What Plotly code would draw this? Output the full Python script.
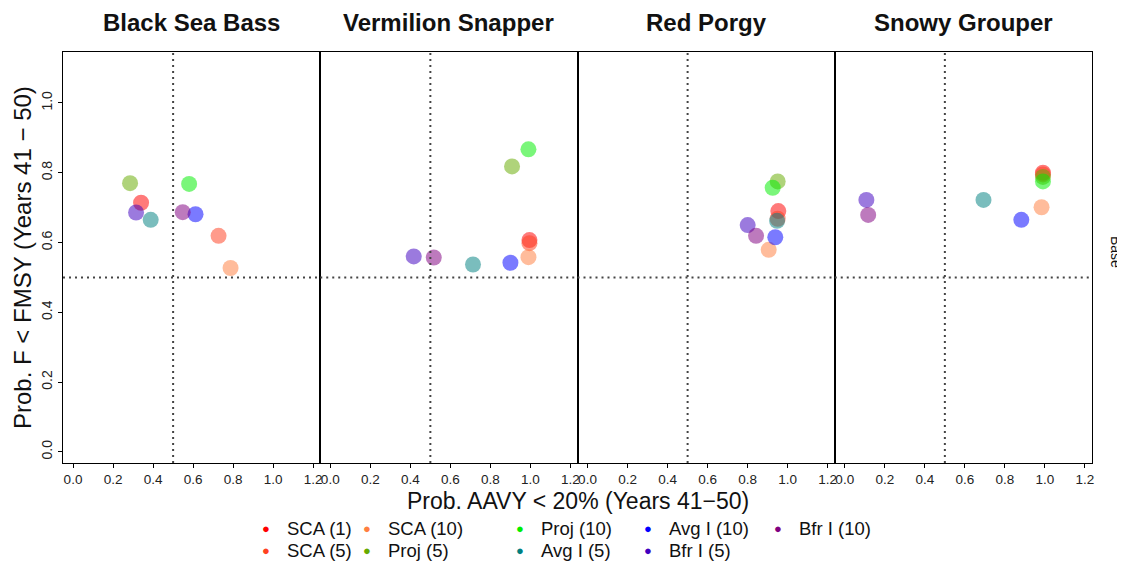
import plotly.graph_objects as go

stocks = ["Black Sea Bass", "Vermilion Snapper", "Red Porgy", "Snowy Grouper"]
series = ["SCA (1)", "SCA (5)", "SCA (10)", "Proj (5)", "Proj (10)",
          "Avg I (5)", "Avg I (10)", "Bfr I (5)", "Bfr I (10)"]
colors = ["#FF0000", "#FF4020", "#FF7F40", "#66AA00", "#00EE00",
          "#008080", "#0000FF", "#4000C0", "#800080"]

# x = Prob. AAVY < 20%, y = Prob. F < FMSY ; one list per stock, in series order
bsb_x = [0.340, 0.727, 0.787, 0.285, 0.580, 0.388, 0.612, 0.315, 0.548]
bsb_y = [0.714, 0.619, 0.527, 0.770, 0.768, 0.665, 0.681, 0.686, 0.687]
vs_x = [0.995, 0.995, 0.990, 0.908, 0.990, 0.713, 0.900, 0.417, 0.517]
vs_y = [0.607, 0.598, 0.558, 0.818, 0.867, 0.537, 0.542, 0.560, 0.557]
rp_x = [0.953, 0.950, 0.905, 0.950, 0.925, 0.947, 0.938, 0.800, 0.842]
rp_y = [0.690, 0.668, 0.579, 0.775, 0.757, 0.662, 0.615, 0.650, 0.619]
sg_x = [0.990, 0.990, 0.983, 0.990, 0.990, 0.693, 0.882, 0.108, 0.117]
sg_y = [0.800, 0.795, 0.701, 0.788, 0.775, 0.722, 0.665, 0.722, 0.679]

panel_x = [bsb_x, vs_x, rp_x, sg_x]
panel_y = [bsb_y, vs_y, rp_y, sg_y]

tick_vals = [0.0, 0.2, 0.4, 0.6, 0.8, 1.0, 1.2]
tick_text = ["0.0", "0.2", "0.4", "0.6", "0.8", "1.0", "1.2"]
ref_x = 0.5
ref_y = 0.5

FONT = "Liberation Sans, Arial, sans-serif"
OFF = 8  # page body margin
W, H = 1125 - OFF, 565 - OFF
# plot area in page pixels: x 63..1092, y 52..463
PX0, PX1, PY0, PY1 = 63, 1092, 52, 463
L, T = PX0 - OFF, PY0 - OFF
R, B = W - (PX1 - OFF), H - (PY1 - OFF)
pw = PX1 - PX0
ph = PY1 - PY0


def pxx(px):
    return (px - PX0) / pw


def pxy(py):
    return (PY1 - py) / ph


fig = go.Figure()

for p in range(4):
    sfx = "" if p == 0 else str(p + 1)
    for i, s in enumerate(series):
        fig.add_trace(go.Scatter(
            x=[panel_x[p][i]], y=[panel_y[p][i]], mode="markers",
            marker=dict(color=colors[i], size=16, opacity=0.52, line=dict(width=0)),
            name=s, showlegend=False, xaxis="x" + sfx, yaxis="y" + sfx,
            hoverinfo="skip"))
    d0 = p / 4
    d1 = (p + 1) / 4
    fig.layout["xaxis" + sfx] = dict(
        domain=[d0, d1], range=[-0.05, 1.235], tickvals=tick_vals, ticktext=tick_text,
        showgrid=False, zeroline=False, showline=True, mirror=True, linecolor="black",
        linewidth=1, ticks="outside", ticklen=4, tickcolor="black",
        tickfont=dict(family=FONT, size=13.5, color="#222"), anchor="y" + sfx)
    fig.layout["yaxis" + sfx] = dict(
        domain=[0, 1], range=[-0.032, 1.146], tickvals=tick_vals[:6], ticktext=tick_text[:6],
        showgrid=False, zeroline=False, showline=True, mirror=True, linecolor="black",
        linewidth=1, ticks="outside" if p == 0 else "", ticklen=4, tickcolor="black",
        showticklabels=(p == 0), tickangle=-90,
        tickfont=dict(family=FONT, size=14, color="#222"), anchor="x" + sfx)
    # reference lines
    fig.add_shape(type="line", xref="x" + sfx, yref="y" + sfx + " domain",
                  x0=ref_x, x1=ref_x, y0=0, y1=1,
                  line=dict(color="#444", width=2, dash="2px,4px"))
    fig.add_shape(type="line", xref="x" + sfx + " domain", yref="y" + sfx,
                  x0=0, x1=1, y0=ref_y, y1=ref_y,
                  line=dict(color="#444", width=2, dash="2px,4px"))
    fig.add_annotation(text="<b>" + stocks[p] + "</b>", xref="paper", yref="paper",
                       x=(d0 + d1) / 2, y=pxy(22), xanchor="center", yanchor="middle",
                       showarrow=False, font=dict(family=FONT, size=24, color="#111"))

# axis titles
fig.add_annotation(text="Prob. AAVY < 20% (Years 41\u221250)", xref="paper", yref="paper",
                   x=0.5, y=pxy(501), xanchor="center", yanchor="middle", showarrow=False,
                   font=dict(family=FONT, size=23, color="#111"))
fig.add_annotation(text="Prob. F < FMSY (Years 41 \u2212 50)", xref="paper", yref="paper",
                   x=pxx(22), y=pxy(258), xanchor="center", yanchor="middle",
                   textangle=-90, showarrow=False,
                   font=dict(family=FONT, size=24, color="#111"))
fig.add_annotation(text="Base", xref="paper", yref="paper",
                   x=pxx(1116), y=pxy(252), xanchor="center", yanchor="middle", textangle=90,
                   showarrow=False, font=dict(family=FONT, size=14, color="#111"))

# legend (column-major like the original)
leg_cols = [266, 367, 520, 648, 778]
leg_rows = [528, 550]
for i, s in enumerate(series):
    c, r = divmod(i, 2)
    px = leg_cols[c]
    py = leg_rows[r]
    fig.add_annotation(text="\u25CF", xref="paper", yref="paper",
                       x=pxx(px), y=pxy(py), xanchor="center", yanchor="middle",
                       showarrow=False, font=dict(family=FONT, size=13, color=colors[i]))
    fig.add_annotation(text=s, xref="paper", yref="paper",
                       x=pxx(px + 19), y=pxy(py), xanchor="left", yanchor="middle",
                       showarrow=False, font=dict(family=FONT, size=18.5, color="#111"))

fig.update_layout(width=W, height=H, margin=dict(l=L, r=R, t=T, b=B, autoexpand=False),
                  plot_bgcolor="white", paper_bgcolor="white", showlegend=False)

fig.write_html("out.html")
